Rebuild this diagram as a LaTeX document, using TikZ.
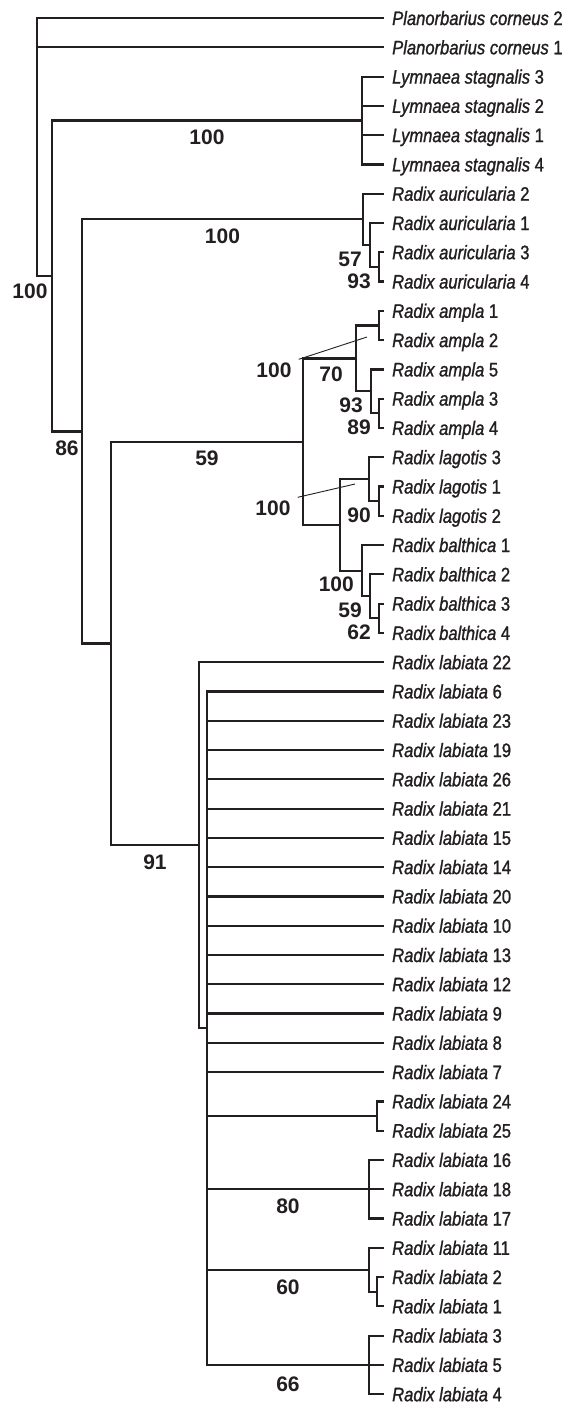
\documentclass[tikz,border=0pt]{standalone}
\usepackage{fontspec}
\setmainfont{Liberation Sans}
\newfontfamily\namefont[FakeStretch=0.85,FakeBold=1.2]{Liberation Sans}
\definecolor{ink}{HTML}{231F20}
\usetikzlibrary{positioning}

\begin{document}
\begin{tikzpicture}[x=1pt,y=-1pt,
    leaf/.style={anchor=west,inner xsep=8pt,inner ysep=0pt,
      text height=14pt,text depth=0pt,text=ink,
      font=\namefont\fontsize{19.5}{21}\selectfont},
    bsup/.style={inner sep=0pt,text height=15pt,text depth=0pt,text=ink,
      font=\bfseries\fontsize{21}{22}\selectfont},
    brch/.style={draw=ink,line width=2.2pt},
    ptr/.style={draw=ink,line width=0.9pt},
  ]
    \useasboundingbox (0,0) rectangle (579,1403);

    % leaves
    \node[leaf] (pc2) at (384,18.0) {\textit{Planorbarius corneus} 2};
    \node[leaf] (pc1) at (384,47.3) {\textit{Planorbarius corneus} 1};
    \node[leaf] (ls3) at (384,76.6) {\textit{Lymnaea stagnalis} 3};
    \node[leaf] (ls2) at (384,105.8) {\textit{Lymnaea stagnalis} 2};
    \node[leaf] (ls1) at (384,135.1) {\textit{Lymnaea stagnalis} 1};
    \node[leaf] (ls4) at (384,164.4) {\textit{Lymnaea stagnalis} 4};
    \node[leaf] (au2) at (384,193.7) {\textit{Radix auricularia} 2};
    \node[leaf] (au1) at (384,223.0) {\textit{Radix auricularia} 1};
    \node[leaf] (au3) at (384,252.2) {\textit{Radix auricularia} 3};
    \node[leaf] (au4) at (384,281.5) {\textit{Radix auricularia} 4};
    \node[leaf] (am1) at (384,310.8) {\textit{Radix ampla} 1};
    \node[leaf] (am2) at (384,340.1) {\textit{Radix ampla} 2};
    \node[leaf] (am5) at (384,369.4) {\textit{Radix ampla} 5};
    \node[leaf] (am3) at (384,398.6) {\textit{Radix ampla} 3};
    \node[leaf] (am4) at (384,427.9) {\textit{Radix ampla} 4};
    \node[leaf] (lg3) at (384,457.2) {\textit{Radix lagotis} 3};
    \node[leaf] (lg1) at (384,486.5) {\textit{Radix lagotis} 1};
    \node[leaf] (lg2) at (384,515.8) {\textit{Radix lagotis} 2};
    \node[leaf] (bt1) at (384,545.0) {\textit{Radix balthica} 1};
    \node[leaf] (bt2) at (384,574.3) {\textit{Radix balthica} 2};
    \node[leaf] (bt3) at (384,603.6) {\textit{Radix balthica} 3};
    \node[leaf] (bt4) at (384,632.9) {\textit{Radix balthica} 4};
    \node[leaf] (lb22) at (384,662.2) {\textit{Radix labiata} 22};
    \node[leaf] (lb6) at (384,691.4) {\textit{Radix labiata} 6};
    \node[leaf] (lb23) at (384,720.7) {\textit{Radix labiata} 23};
    \node[leaf] (lb19) at (384,750.0) {\textit{Radix labiata} 19};
    \node[leaf] (lb26) at (384,779.3) {\textit{Radix labiata} 26};
    \node[leaf] (lb21) at (384,808.6) {\textit{Radix labiata} 21};
    \node[leaf] (lb15) at (384,837.8) {\textit{Radix labiata} 15};
    \node[leaf] (lb14) at (384,867.1) {\textit{Radix labiata} 14};
    \node[leaf] (lb20) at (384,896.4) {\textit{Radix labiata} 20};
    \node[leaf] (lb10) at (384,925.7) {\textit{Radix labiata} 10};
    \node[leaf] (lb13) at (384,955.0) {\textit{Radix labiata} 13};
    \node[leaf] (lb12) at (384,984.2) {\textit{Radix labiata} 12};
    \node[leaf] (lb9) at (384,1013.5) {\textit{Radix labiata} 9};
    \node[leaf] (lb8) at (384,1042.8) {\textit{Radix labiata} 8};
    \node[leaf] (lb7) at (384,1072.1) {\textit{Radix labiata} 7};
    \node[leaf] (lb24) at (384,1101.4) {\textit{Radix labiata} 24};
    \node[leaf] (lb25) at (384,1130.6) {\textit{Radix labiata} 25};
    \node[leaf] (lb16) at (384,1159.9) {\textit{Radix labiata} 16};
    \node[leaf] (lb18) at (384,1189.2) {\textit{Radix labiata} 18};
    \node[leaf] (lb17) at (384,1218.5) {\textit{Radix labiata} 17};
    \node[leaf] (lb11) at (384,1247.8) {\textit{Radix labiata} 11};
    \node[leaf] (lb2) at (384,1277.0) {\textit{Radix labiata} 2};
    \node[leaf] (lb1) at (384,1306.3) {\textit{Radix labiata} 1};
    \node[leaf] (lb3) at (384,1335.6) {\textit{Radix labiata} 3};
    \node[leaf] (lb5) at (384,1364.9) {\textit{Radix labiata} 5};
    \node[leaf] (lb4) at (384,1394.2) {\textit{Radix labiata} 4};

    % internal nodes
    \coordinate (nroot) at (37,147.0);
    \coordinate (ningrp) at (52,276.0);
    \coordinate (nls) at (362,120.5);
    \coordinate (nrad1) at (82,431.4);
    \coordinate (nau) at (363,219.3);
    \coordinate (nau1) at (370,245.0);
    \coordinate (nau34) at (379,266.9);
    \coordinate (nrad2) at (111,643.5);
    \coordinate (nambt) at (303,441.7);
    \coordinate (nam) at (356,358.4);
    \coordinate (nam12) at (379,325.4);
    \coordinate (nam534) at (371,391.3);
    \coordinate (nam34) at (379,413.3);
    \coordinate (nlgbt) at (340,524.9);
    \coordinate (nlg) at (369,479.2);
    \coordinate (nlg12) at (379,501.1);
    \coordinate (nbt) at (362,570.6);
    \coordinate (nbt234) at (370,596.3);
    \coordinate (nbt34) at (379,618.2);
    \coordinate (nlab) at (199,845.2);
    \coordinate (nlbin) at (207,1028.2);
    \coordinate (nlb2425) at (377,1116.0);
    \coordinate (nlb16) at (369,1189.2);
    \coordinate (nlb11) at (369,1269.7);
    \coordinate (nlb21) at (377,1291.7);
    \coordinate (nlb354) at (369,1364.9);

    % branches
    \draw[brch] (nroot) |- (pc2.west);
    \draw[brch] (nroot) |- (pc1.west);
    \draw[brch] (nroot) |- (ningrp);
    \node[bsup] (s100root) at (30,291) {100};

    \draw[brch] (ningrp) |- (nls)
      node[bsup,pos=.75,below=8pt] (s100ls) {100};
    \draw[brch] (ningrp) |- (nrad1)
      node[bsup,pos=.75,below=8pt] (s86) {86};
    \draw[brch] (nls) |- (ls3.west);
    \draw[brch] (nls) |- (ls2.west);
    \draw[brch] (nls) |- (ls1.west);
    \draw[brch] (nls) |- (ls4.west);

    \draw[brch] (nrad1) |- (nau)
      node[bsup,pos=.75,below=8pt] (s100au) {100};
    \draw[brch] (nrad1) |- (nrad2);
    \draw[brch] (nau) |- (au2.west);
    \draw[brch] (nau) |- (nau1);
    \draw[brch] (nau1) |- (au1.west);
    \draw[brch] (nau1) |- (nau34);
    \draw[brch] (nau34) |- (au3.west);
    \draw[brch] (nau34) |- (au4.west);
    \node[bsup,below left=6pt and 8pt of nau1] (s57) {57};
    \node[bsup,below left=6pt and 8pt of nau34] (s93au) {93};

    \draw[brch] (nrad2) |- (nambt)
      node[bsup,pos=.75,below=8pt] (s59) {59};
    \draw[brch] (nrad2) |- (nlab)
      node[bsup,pos=.75,below=8pt] (s91) {91};

    \draw[brch] (nambt) |- (nam);
    \draw[brch] (nambt) |- (nlgbt);
    \draw[brch] (nam) |- (nam12);
    \draw[brch] (nam) |- (nam534);
    \draw[brch] (nam12) |- (am1.west);
    \draw[brch] (nam12) |- (am2.west);
    \draw[brch] (nam534) |- (am5.west);
    \draw[brch] (nam534) |- (nam34);
    \draw[brch] (nam34) |- (am3.west);
    \draw[brch] (nam34) |- (am4.west);
    \node[bsup] (s100am) at (274,370) {100};
    \coordinate (pam) at (367,337);
    \draw[ptr] ([shift={(7,-3)}]s100am.north east) -- (pam);
    \node[bsup,below left=8pt and 13pt of nam] (s70) {70};
    \node[bsup,below left=6pt and 8pt of nam534] (s93am) {93};
    \node[bsup,below left=6pt and 8pt of nam34] (s89) {89};

    \draw[brch] (nlgbt) |- (nlg);
    \draw[brch] (nlgbt) |- (nbt);
    \draw[brch] (nlg) |- (lg3.west);
    \draw[brch] (nlg) |- (nlg12);
    \draw[brch] (nlg12) |- (lg1.west);
    \draw[brch] (nlg12) |- (lg2.west);
    \node[bsup] (s100lg) at (273,508) {100};
    \coordinate (plg) at (355,484);
    \draw[ptr] ([shift={(7,-3)}]s100lg.north east) -- (plg);
    \node[bsup,below left=6pt and 8pt of nlg12] (s90) {90};

    \draw[brch] (nbt) |- (bt1.west);
    \draw[brch] (nbt) |- (nbt234);
    \draw[brch] (nbt234) |- (bt2.west);
    \draw[brch] (nbt234) |- (nbt34);
    \draw[brch] (nbt34) |- (bt3.west);
    \draw[brch] (nbt34) |- (bt4.west);
    \node[bsup,below left=6pt and 8pt of nbt] (s100bt) {100};
    \node[bsup,below left=6pt and 8pt of nbt234] (s59bt) {59};
    \node[bsup,below left=6pt and 8pt of nbt34] (s62) {62};

    \draw[brch] (nlab) |- (lb22.west);
    \draw[brch] (nlab) |- (nlbin);
    \draw[brch] (nlbin) |- (lb6.west);
    \draw[brch] (nlbin) |- (lb23.west);
    \draw[brch] (nlbin) |- (lb19.west);
    \draw[brch] (nlbin) |- (lb26.west);
    \draw[brch] (nlbin) |- (lb21.west);
    \draw[brch] (nlbin) |- (lb15.west);
    \draw[brch] (nlbin) |- (lb14.west);
    \draw[brch] (nlbin) |- (lb20.west);
    \draw[brch] (nlbin) |- (lb10.west);
    \draw[brch] (nlbin) |- (lb13.west);
    \draw[brch] (nlbin) |- (lb12.west);
    \draw[brch] (nlbin) |- (lb9.west);
    \draw[brch] (nlbin) |- (lb8.west);
    \draw[brch] (nlbin) |- (lb7.west);
    \draw[brch] (nlbin) |- (nlb2425);
    \draw[brch] (nlbin) |- (nlb16)
      node[bsup,pos=.75,below=8pt] (s80) {80};
    \draw[brch] (nlbin) |- (nlb11)
      node[bsup,pos=.75,below=9pt] (s60) {60};
    \draw[brch] (nlbin) |- (nlb354)
      node[bsup,pos=.75,below=10pt] (s66) {66};

    \draw[brch] (nlb2425) |- (lb24.west);
    \draw[brch] (nlb2425) |- (lb25.west);
    \draw[brch] (nlb16) |- (lb16.west);
    \draw[brch] (nlb16) |- (lb18.west);
    \draw[brch] (nlb16) |- (lb17.west);
    \draw[brch] (nlb11) |- (lb11.west);
    \draw[brch] (nlb11) |- (nlb21);
    \draw[brch] (nlb21) |- (lb2.west);
    \draw[brch] (nlb21) |- (lb1.west);
    \draw[brch] (nlb354) |- (lb3.west);
    \draw[brch] (nlb354) |- (lb5.west);
    \draw[brch] (nlb354) |- (lb4.west);
  \end{tikzpicture}
\end{document}
